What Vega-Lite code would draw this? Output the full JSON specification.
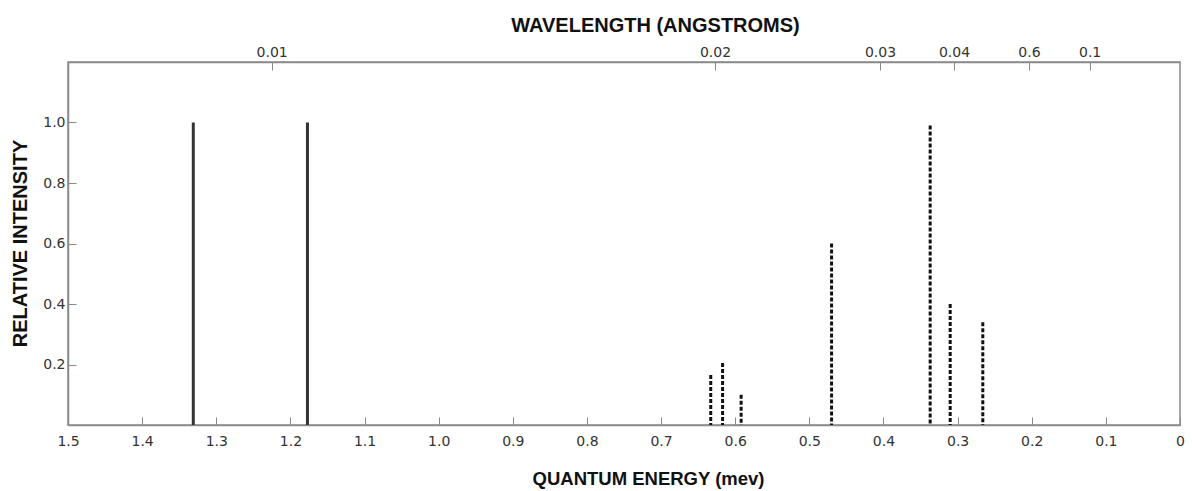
{
  "$schema": "https://vega.github.io/schema/vega-lite/v6.json",
  "width": 1112,
  "height": 363,
  "autosize": {"type": "none"},
  "padding": {"left": 68, "top": 62, "right": 12, "bottom": 66},
  "background": "white",
  "config": {
    "view": {"stroke": "#8a8a8a", "strokeWidth": 1.5},
    "axis": {
      "grid": false,
      "domainColor": "#8a8a8a",
      "domainWidth": 1.5,
      "tickColor": "#8a8a8a",
      "tickWidth": 1,
      "labelFont": "DejaVu Sans",
      "labelFontSize": 14,
      "labelColor": "#333333",
      "titleFont": "Liberation Sans",
      "titleFontWeight": "bold",
      "titleColor": "#111111",
      "titleBaseline": "middle",
      "titleAlign": "center"
    }
  },
  "datasets": {
    "lines": [
      {"energy": 1.331, "intensity": 1.0, "style": "solid"},
      {"energy": 1.177, "intensity": 1.0, "style": "solid"},
      {"energy": 0.633, "intensity": 0.165, "style": "dashed"},
      {"energy": 0.617, "intensity": 0.205, "style": "dashed"},
      {"energy": 0.592, "intensity": 0.1, "style": "dashed"},
      {"energy": 0.47, "intensity": 0.6, "style": "dashed"},
      {"energy": 0.337, "intensity": 0.99, "style": "dashed"},
      {"energy": 0.31, "intensity": 0.4, "style": "dashed"},
      {"energy": 0.266, "intensity": 0.34, "style": "dashed"}
    ],
    "wavelength": [
      {"energy": 1.2253, "label": "0.01"},
      {"energy": 0.6273, "label": "0.02"},
      {"energy": 0.4047, "label": "0.03"},
      {"energy": 0.3049, "label": "0.04"},
      {"energy": 0.2037, "label": "0.6"},
      {"energy": 0.1219, "label": "0.1"}
    ]
  },
  "layer": [
    {
      "data": {"name": "lines"},
      "mark": {"type": "rule", "strokeWidth": 3},
      "encoding": {
        "x": {
          "field": "energy",
          "type": "quantitative",
          "scale": {"domain": [0, 1.5], "reverse": true, "nice": false, "zero": false},
          "axis": {
            "orient": "bottom",
            "title": "QUANTUM ENERGY (mev)",
            "titleFontSize": 18.5,
            "titleX": 580,
            "titleY": 53,
            "values": [1.5, 1.4, 1.3, 1.2, 1.1, 1.0, 0.9, 0.8, 0.7, 0.6, 0.5, 0.4, 0.3, 0.2, 0.1, 0],
            "labelExpr": "datum.value == 0 ? '0' : format(datum.value, '.1f')",
            "tickSize": -8,
            "labelPadding": 17,
            "labelFlush": false,
            "labelOverlap": false
          }
        },
        "y": {
          "field": "intensity",
          "type": "quantitative",
          "scale": {"domain": [0, 1.2], "nice": false},
          "axis": {
            "title": "RELATIVE INTENSITY",
            "titleFontSize": 20,
            "titleX": -48,
            "titleY": 181,
            "values": [0.2, 0.4, 0.6, 0.8, 1.0],
            "format": ".1f",
            "tickSize": -8,
            "labelPadding": 11
          }
        },
        "y2": {"datum": 0},
        "color": {
          "field": "style",
          "type": "nominal",
          "scale": {"domain": ["solid", "dashed"], "range": ["#333333", "#111111"]},
          "legend": null
        },
        "strokeDash": {
          "field": "style",
          "type": "nominal",
          "scale": {"domain": ["solid", "dashed"], "range": [[1, 0], [4, 2]]},
          "legend": null
        }
      }
    },
    {
      "data": {"name": "wavelength"},
      "mark": {"type": "text", "opacity": 0},
      "encoding": {
        "x": {
          "field": "energy",
          "type": "quantitative",
          "scale": {"domain": [0, 1.5], "reverse": true, "nice": false, "zero": false},
          "axis": {
            "orient": "top",
            "title": "WAVELENGTH (ANGSTROMS)",
            "titleFontSize": 20,
            "titleX": 587,
            "titleY": -37,
            "values": [1.2253, 0.6273, 0.4047, 0.3049, 0.2037, 0.1219],
            "labelExpr": "datum.value > 1 ? '0.01' : datum.value > 0.6 ? '0.02' : datum.value > 0.35 ? '0.03' : datum.value > 0.25 ? '0.04' : datum.value > 0.15 ? '0.6' : '0.1'",
            "tickSize": -8,
            "labelPadding": 11,
            "labelOverlap": false
          }
        },
        "text": {"field": "label"}
      }
    }
  ],
  "resolve": {"scale": {"x": "independent"}}
}
